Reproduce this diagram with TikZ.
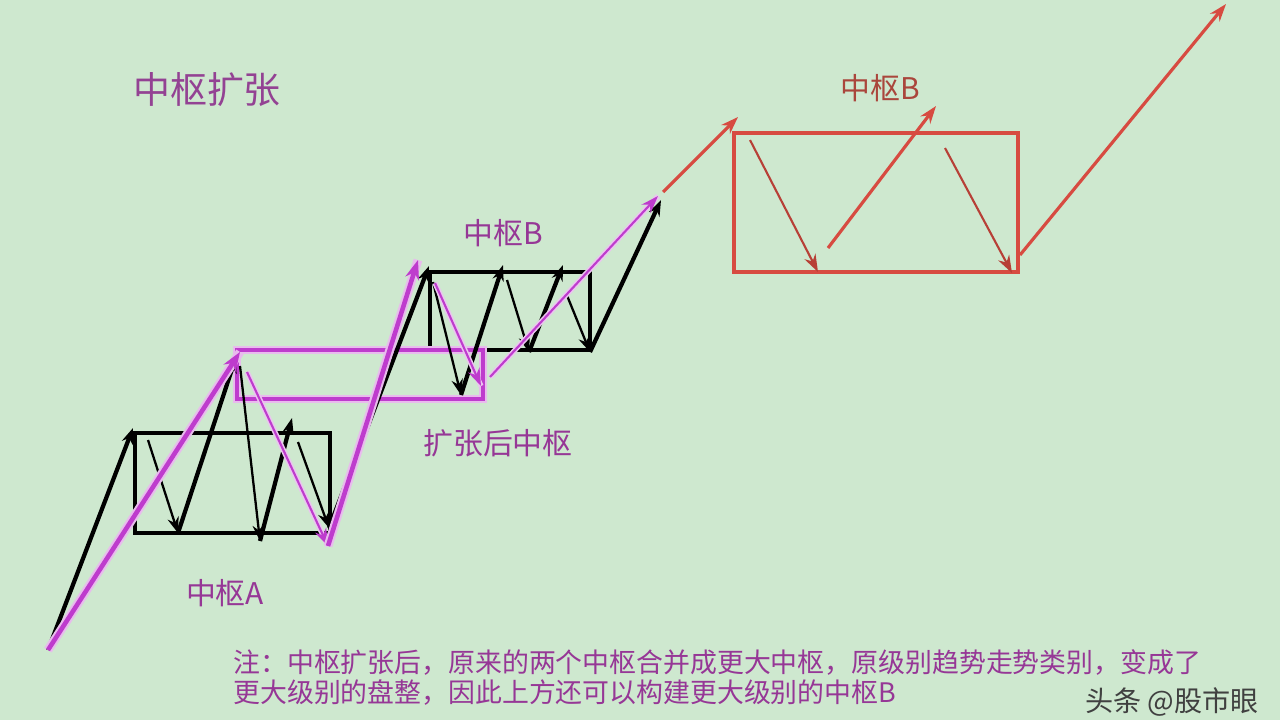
\documentclass[tikz,border=0pt]{standalone}
\usepackage{fontspec}
\usepackage{xcolor}
\usepackage{tikz}
\newfontfamily\cjk{Noto Sans CJK SC}
\usetikzlibrary{arrows.meta}
\definecolor{beijing}{RGB}{206,232,207}
\definecolor{zhong}{RGB}{190,60,205}
\definecolor{hong}{RGB}{215,75,65}
\definecolor{zi}{RGB}{150,55,150}
\definecolor{hongzi}{RGB}{170,70,60}

\begin{document}
\begin{tikzpicture}[x=0.02cm, y=-0.02cm,
    kuang/.style={line width=2.3pt},
    hcu/.style={black, line width=2.4pt, -{Stealth[length=9pt, width=6.5pt]}},
    hxi/.style={black, line width=1.3pt, -{Stealth[length=9pt, width=6.5pt]}},
    zcu/.style={zhong, line width=2.6pt, preaction={draw=zhong!35, line width=5pt, -}, -{Stealth[length=11pt, width=8pt]}},
    zxi/.style={zhong, line width=1.2pt, preaction={draw=zhong!30, line width=3pt, -}, -{Stealth[length=10pt, width=7pt]}},
    rcu/.style={hong, line width=1.8pt, -{Stealth[length=10pt, width=7pt]}},
    rxi/.style={hong!85!black, line width=1.2pt, -{Stealth[length=10pt, width=7pt]}},
    biaoqian/.style={font=\cjk\fontsize{17pt}{20pt}\selectfont, text=zi, inner sep=0pt},
    zhushi/.style={font=\cjk\fontsize{15.3pt}{18pt}\selectfont, text=zi, inner sep=0pt, anchor=west}]
    \fill[beijing] (0,0) rectangle (1280,720);
    \useasboundingbox (0,0) rectangle (1280,720);

    % boxes
    \draw[kuang, black] (135,433) rectangle (330,533);
    \draw[kuang, black] (430,272) rectangle (590,350);
    \draw[kuang, zhong, preaction={draw=zhong!35, line width=4.5pt}] (237,350) rectangle (483,399);
    \draw[kuang, hong] (734,133) rectangle (1018,272);

    % lower level moves
    \coordinate (h0) at (48,650);
    \coordinate (h1) at (133,428);
    \coordinate (h2) at (178,533);
    \coordinate (h3) at (236,357);
    \coordinate (h4) at (260,541);
    \coordinate (h5) at (292,418);
    \coordinate (h6) at (329,528);
    \coordinate (h7) at (429,266);
    \coordinate (h8) at (461,395);
    \coordinate (h9) at (503,265);
    \coordinate (h10) at (529,352);
    \coordinate (h11) at (563,265);
    \coordinate (h12) at (590,352);
    \coordinate (h13) at (661,200);
    \foreach \a/\b in {h0/h1, h2/h3, h4/h5, h6/h7, h8/h9, h10/h11, h12/h13}
        \draw[hcu] (\a) -- (\b);
    \draw[hxi] (148,440) -- (h2);
    \draw[hxi] (240,366) -- (h4);
    \draw[hxi] (298,442) -- (h6);
    \draw[hxi] (433,282) -- (h8);
    \draw[hxi] (507,280) -- (h10);
    \draw[hxi] (566,293) -- (h12);

    % higher level moves
    \coordinate (z1) at (240,352);
    \coordinate (z2) at (328,546);
    \coordinate (z3) at (418,260);
    \coordinate (z4) at (481,386);
    \coordinate (z5) at (658,196);
    \draw[zcu] (h0) -- (z1);
    \draw[zxi] (247,372) -- (z2);
    \draw[zcu] (z2) -- (z3);
    \draw[zxi] (435,283) -- (z4);
    \draw[zxi] (490,377) -- (z5);

    % new pivot
    \coordinate (r1) at (738,117);
    \coordinate (r2) at (818,272);
    \coordinate (r3) at (936,106);
    \coordinate (r4) at (1012,273);
    \coordinate (r5) at (1226,4);
    \draw[rcu] (663,192) -- (r1);
    \draw[rxi] (750,140) -- (r2);
    \draw[rcu] (828,248) -- (r3);
    \draw[rxi] (945,148) -- (r4);
    \draw[rcu] (1020,255) -- (r5);

    \node[biaoqian, font=\cjk\fontsize{21pt}{24pt}\selectfont, text=zi!85!gray] (title) at (207,90) {中枢扩张};
    \node[biaoqian] (zsB) at (503,233) {中枢B};
    \node[biaoqian] (kzh) at (498,443) {扩张后中枢};
    \node[biaoqian] (zsA) at (225,593) {中枢A};
    \node[biaoqian, text=hongzi] (zsB2) at (880,88) {中枢B};
    \node[zhushi] (note1) at (233,663) {注：中枢扩张后，原来的两个中枢合并成更大中枢，原级别趋势走势类别，变成了};
    \node[zhushi] (note2) at (233,693) {更大级别的盘整，因此上方还可以构建更大级别的中枢B};
    \node[font=\cjk\fontsize{16pt}{19pt}\selectfont, text=black!75, inner sep=0pt] (wm) at (1172,702) {头条 @股市眼};
\end{tikzpicture}
\end{document}
